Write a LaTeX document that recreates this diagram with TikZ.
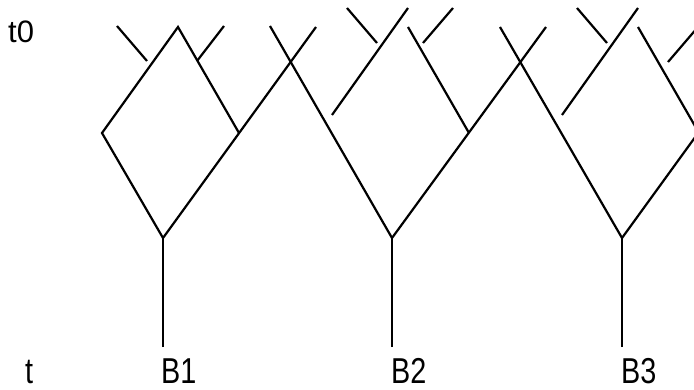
\documentclass[tikz,border=0pt]{standalone}
\usepackage{fontspec}
\setmainfont{Liberation Sans}

\begin{document}
\begin{tikzpicture}[x=1pt,y=-1pt,%%
  lineStyle/.style={-,line width=2.2pt},%%
  labelStyle/.style={inner sep=0pt,anchor=base west,xscale=0.8,font=\fontsize{36}{36}\selectfont},%%
  timeStyle/.style={inner sep=0pt,anchor=base west,font=\fontsize{31}{31}\selectfont}%%
]
%%
%%
\pgfmathsetmacro{\rootY}{238}  %% height of the roots
\pgfmathsetmacro{\footY}{347}  %% lower end of the stems
\pgfmathsetmacro{\textY}{383}  %% base line of the bottom labels
%%
\useasboundingbox (0,0) rectangle (694,390);
\clip (0,0) rectangle (694,390);
%%
%% Coordinates for tree B1.
\coordinate (root1) at (163,\rootY);
\coordinate (foot1) at (163,\footY);
\coordinate (knee1) at (102,133);
\coordinate (apex1) at (178,27);
\coordinate (join1) at (239,133);
\coordinate (top1) at (316,27);
\coordinate (aStart1) at (117,26);
\coordinate (aEnd1) at (147,61);
\coordinate (bStart1) at (224,26);
\coordinate (bEnd1) at (197,61);
%% Coordinates for tree B2.
\coordinate (root2) at (392,\rootY);
\coordinate (foot2) at (392,\footY);
\coordinate (topLeft2) at (270,26);
\coordinate (topRight2) at (546,27);
\coordinate (join2) at (469,133);
\coordinate (branch2) at (408,27);
\coordinate (freeStart2) at (408,8);
\coordinate (freeEnd2) at (332,115);
\coordinate (aStart2) at (347,8);
\coordinate (aEnd2) at (377,43);
\coordinate (bStart2) at (453,8);
\coordinate (bEnd2) at (423,43);
%% Coordinates for tree B3.
\coordinate (root3) at (622,\rootY);
\coordinate (foot3) at (622,\footY);
\coordinate (topLeft3) at (500,27);
\coordinate (topRight3) at (775,27);
\coordinate (join3) at (699,133);
\coordinate (branch3) at (638,27);
\coordinate (freeStart3) at (638,8);
\coordinate (freeEnd3) at (562,115);
\coordinate (aStart3) at (577,8);
\coordinate (aEnd3) at (607,43);
\coordinate (bStart3) at (698,27);
\coordinate (bEnd3) at (668,62);
%%
%% Draw tree B1.
\draw[lineStyle] (foot1) -- (root1);
\draw[lineStyle] (root1) -- (knee1) -- (apex1) -- (join1);
\draw[lineStyle] (root1) -- (top1);
\draw[lineStyle] (aStart1) -- (aEnd1);
\draw[lineStyle] (bStart1) -- (bEnd1);
%%
%% Draw tree B2.
\draw[lineStyle] (foot2) -- (root2);
\draw[lineStyle] (root2) -- (topLeft2);
\draw[lineStyle] (root2) -- (topRight2);
\draw[lineStyle] (branch2) -- (join2);
\draw[lineStyle] (freeStart2) -- (freeEnd2);
\draw[lineStyle] (aStart2) -- (aEnd2);
\draw[lineStyle] (bStart2) -- (bEnd2);
%%
%% Draw tree B3.
\draw[lineStyle] (foot3) -- (root3);
\draw[lineStyle] (root3) -- (topLeft3);
\draw[lineStyle] (root3) -- (topRight3);
\draw[lineStyle] (branch3) -- (join3);
\draw[lineStyle] (freeStart3) -- (freeEnd3);
\draw[lineStyle] (aStart3) -- (aEnd3);
\draw[lineStyle] (bStart3) -- (bEnd3);
%%
%% Label the time axis and the trees.
\node[timeStyle] (tZero) at (8,43) {t0};
\node[labelStyle] (tNow) at (25,\textY) {t};
\node[labelStyle] (labelB1) at (161,\textY) {B1};
\node[labelStyle] (labelB2) at (391,\textY) {B2};
\node[labelStyle] (labelB3) at (621,\textY) {B3};
\end{tikzpicture}
\end{document}
